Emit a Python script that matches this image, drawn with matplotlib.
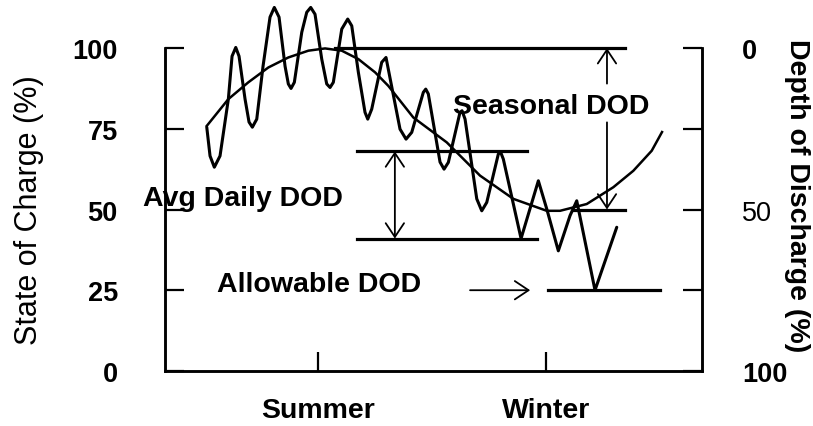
import matplotlib
matplotlib.use("Agg")
import matplotlib.pyplot as plt

plt.rcParams['font.family'] = ['Liberation Sans', 'DejaVu Sans']

# daily swing of state of charge (x in arbitrary time units 0-100, y in %)
daily_x = [7.77, 8.38, 9.18, 10.24, 11.79, 12.48, 13.17, 13.78, 14.90, 15.64, 16.26,
           17.08, 18.25, 19.55, 20.35, 21.23, 22.35, 22.96, 23.46, 24.08, 25.46, 26.39,
           27.13, 27.93, 29.18, 30.11, 30.73, 31.34, 32.91, 34.02, 34.77, 36.00, 37.24,
           37.75, 38.49, 40.35, 41.15, 43.76, 44.88, 45.94, 48.10, 48.55, 49.03, 51.21,
           51.96, 52.76, 54.93, 55.31, 55.87, 58.05, 58.98, 59.91, 62.07, 62.51, 63.00,
           66.30, 69.52, 71.08, 73.24, 75.42, 76.67, 80.07, 84.12]
daily_soc = [75.5, 66.6, 63.1, 66.6, 84.2, 97.5, 100.2, 97.5, 84.2, 77.1, 75.5,
             78.0, 94.4, 109.6, 112.6, 109.6, 94.4, 88.9, 87.5, 89.4, 104.9, 111.1,
             112.6, 110.5, 96.6, 88.9, 87.8, 89.4, 105.9, 109.0, 106.9, 92.5, 80.1,
             78.0, 81.1, 95.6, 97.1, 74.9, 71.8, 73.9, 86.3, 87.3, 85.8, 64.7,
             62.5, 64.6, 80.1, 80.6, 78.0, 53.3, 49.6, 52.2, 67.2, 67.7, 65.6,
             41.0, 58.9, 50.2, 37.2, 48.1, 52.7, 25.0, 44.5]

# seasonal trend of state of charge
season_x = [7.77, 11.79, 15.51, 19.24, 22.96, 26.69, 29.80, 32.91, 36.00, 39.11, 41.58,
            46.24, 52.46, 58.66, 64.86, 71.08, 73.56, 78.53, 83.48, 87.21, 90.63, 92.55]
season_soc = [75.9, 84.2, 89.4, 94.0, 97.1, 99.2, 99.9, 99.2, 96.6, 92.5, 88.3,
              78.5, 70.8, 60.5, 53.3, 49.6, 49.6, 51.7, 56.9, 62.0, 68.2, 74.0]

# reference levels: soc, start, end
level_soc = [100, 68, 41, 50, 25]
level_x0 = [31.7, 35.8, 35.8, 76.0, 71.3]
level_x1 = [85.7, 67.4, 69.3, 85.7, 92.2]

season_ticks = [28.5, 71.0]
season_labels = ['Summer', 'Winter']
soc_ticks = [0, 25, 50, 75, 100]
dod_ticks = [0, 25, 50, 75, 100]
dod_labels = ['0', '', '50', '', '100']

fig = plt.figure(figsize=(8.13, 4.27), dpi=100)
ax = fig.add_axes([0.203, 0.129, 0.6605, 0.756])
ax2 = ax.twinx()

ax.plot(daily_x, daily_soc, color='black', lw=2.2, clip_on=False,
        solid_joinstyle='round', solid_capstyle='round')
ax.plot(season_x, season_soc, color='black', lw=1.8, clip_on=False)
for s, a, b in zip(level_soc, level_x0, level_x1):
    ax.plot([a, b], [s, s], color='black', lw=2.3, clip_on=False)

head = '->, head_length=0.45, head_width=0.3'
arrow = dict(arrowstyle=head, lw=1.3, color='black', mutation_scale=22, shrinkA=0, shrinkB=0)
# seasonal DOD arrow, split by its label
ax.annotate('', xy=(82.3, 100), xytext=(82.3, 89), arrowprops=arrow, annotation_clip=False)
ax.annotate('', xy=(82.3, 50), xytext=(82.3, 77), arrowprops=arrow, annotation_clip=False)
# average daily DOD
ax.annotate('', xy=(42.8, 41), xytext=(42.8, 68),
            arrowprops=dict(arrow, arrowstyle='<' + head), annotation_clip=False)
# allowable DOD
ax.annotate('', xy=(68.0, 25), xytext=(56.8, 25), arrowprops=arrow, annotation_clip=False)

txt = dict(fontsize=20.5, fontweight='bold', ha='center', va='center')
ax.text(71.9, 82.0, 'Seasonal DOD', **txt)
ax.text(14.5, 53.6, 'Avg Daily DOD', **txt)
ax.text(28.7, 26.9, 'Allowable DOD', **txt)

ax.set_xlim(0, 100)
ax.set_ylim(0, 100)
ax2.set_ylim(100, 0)

ax.set_xticks(season_ticks)
ax.set_xticklabels(season_labels, fontsize=20.5, fontweight='bold')
ax.set_yticks(soc_ticks)
ax.set_yticklabels([str(v) for v in soc_ticks], fontsize=19.5, fontweight='bold')
ax2.set_yticks(dod_ticks)
ax2.set_yticklabels(dod_labels, fontsize=19.5)
for lab in ax2.get_yticklabels():
    if lab.get_text() in ('0', '100'):
        lab.set_fontweight('bold')

ax.tick_params(axis='y', direction='in', length=14, width=1.6, pad=34)
ax.tick_params(axis='x', direction='in', length=14, width=1.6, pad=19)
ax2.tick_params(axis='y', direction='in', length=14, width=1.6, pad=29)

for a in (ax, ax2):
    a.spines['top'].set_visible(False)
    for side in ('left', 'right', 'bottom'):
        a.spines[side].set_linewidth(1.8)

ax.set_ylabel('State of Charge (%)', fontsize=22)
ax.yaxis.set_label_coords(-0.254, 0.5)
ax.yaxis.label.set_va('center')
ax2.set_ylabel('Depth of Discharge (%)', fontsize=20.5, fontweight='bold', rotation=-90)
ax2.yaxis.set_label_coords(1.176, 0.545)
ax2.yaxis.label.set_va('center')

fig.savefig('out.png', dpi=100, facecolor='white')
